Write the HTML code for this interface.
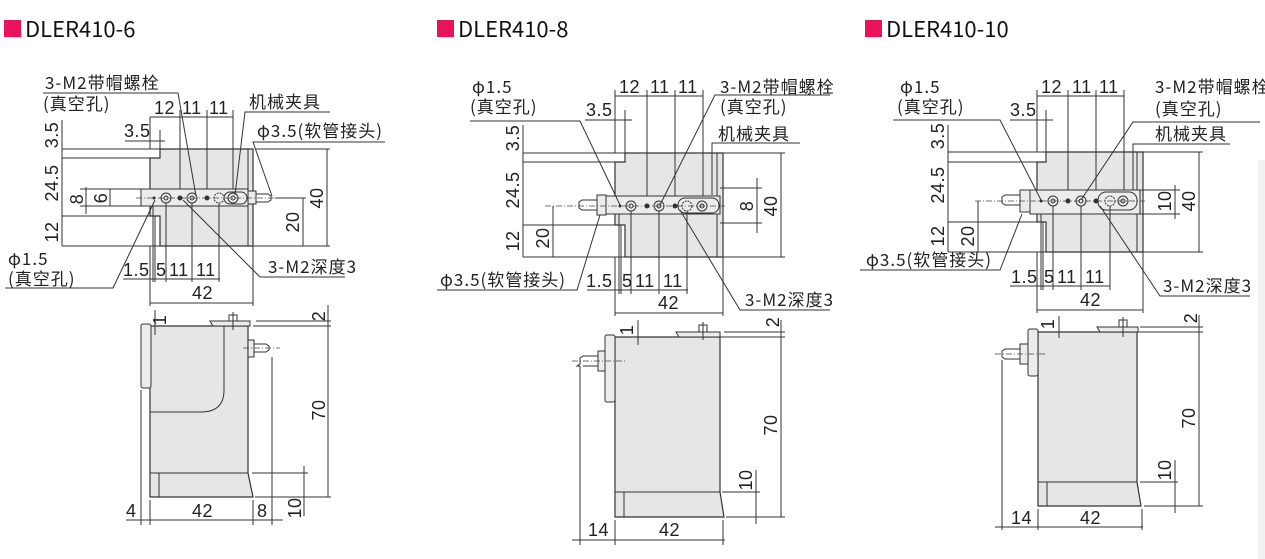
<!DOCTYPE html>
<html><head><meta charset="utf-8"><style>
html,body{margin:0;padding:0;background:#fff;width:1265px;height:559px;overflow:hidden}
svg{display:block}
text{font-family:"Liberation Sans","Noto Sans CJK SC",sans-serif;fill:#222}
.t{font-family:"Noto Sans CJK SC","Liberation Sans",sans-serif;font-size:17px;letter-spacing:1px}
.d{font-family:"Liberation Sans","Noto Sans CJK SC",sans-serif;font-size:18px;letter-spacing:0.5px}
.ttl{font-family:"Noto Sans CJK SC","Liberation Sans",sans-serif;font-size:22px;fill:#111}
.l{stroke:#333;stroke-width:1;fill:none}
.b{fill:#e6e6e6;stroke:#333;stroke-width:1.2}
.p{fill:#ececec;stroke:#333;stroke-width:1}
.c{stroke:#444;stroke-width:0.8;stroke-dasharray:6 2 1 2;fill:none}
</style></head><body>
<svg width="1265" height="559" viewBox="0 0 1265 559" xmlns="http://www.w3.org/2000/svg">
<rect x="1258" y="160" width="7" height="399" fill="#f2f2f2"/>
<!-- Titles -->
<rect x="4" y="20" width="17" height="17" fill="#e8135a"/><text class="ttl" x="25" y="37">DLER410-6</text>
<rect x="437" y="20" width="17" height="17" fill="#e8135a"/><text class="ttl" x="458" y="37">DLER410-8</text>
<rect x="865" y="20" width="17" height="17" fill="#e8135a"/><text class="ttl" x="886" y="37">DLER410-10</text>

<!-- ===== PANEL 1 TOP ===== -->
<path class="b" d="M160 149 H253 V246 H160 V216 H150 V158 H160 Z"/>
<line class="l" x1="248" y1="149" x2="248" y2="246"/>
<rect class="p" x="141" y="189" width="107" height="17"/>
<rect class="p" x="248" y="191" width="8" height="13"/>
<path class="l" d="M256 194 h12 l3 2 v4 l-3 2 h-12"/>
<line class="c" x1="136" y1="198" x2="285" y2="198"/>
<rect class="l" x="224" y="192" width="23" height="12" rx="6"/>
<g class="l"><circle cx="166" cy="198" r="5"/><circle cx="166" cy="198" r="2"/><circle cx="192" cy="198" r="5"/><circle cx="192" cy="198" r="2"/><circle cx="219" cy="198" r="5" stroke-dasharray="2 1"/><circle cx="233" cy="198" r="5"/><circle cx="233" cy="198" r="2"/></g>
<g fill="#333"><circle cx="154" cy="198" r="1.5"/><circle cx="180" cy="198" r="2.5"/><circle cx="207" cy="198" r="2.5"/></g>
<g class="l">
<line x1="62" y1="120" x2="62" y2="246"/>
<line x1="62" y1="149" x2="160" y2="149"/><line x1="62" y1="158" x2="150" y2="158"/>
<line x1="62" y1="216" x2="150" y2="216"/><line x1="62" y1="246" x2="160" y2="246"/>
<line x1="86" y1="187" x2="86" y2="214"/><line x1="80" y1="189" x2="141" y2="189"/><line x1="80" y1="206" x2="141" y2="206"/>
<line x1="110" y1="189" x2="110" y2="206"/>
<line x1="150" y1="117" x2="233" y2="117"/>
<line x1="150" y1="117" x2="150" y2="149"/><line x1="180" y1="110" x2="180" y2="189"/><line x1="207" y1="110" x2="207" y2="189"/><line x1="233" y1="110" x2="233" y2="189"/>
<line x1="125" y1="141" x2="165" y2="141"/><line x1="150" y1="130" x2="150" y2="149"/><line x1="160" y1="130" x2="160" y2="149"/>
<line x1="255" y1="149" x2="330" y2="149"/><line x1="253" y1="246" x2="330" y2="246"/>
<line x1="327" y1="149" x2="327" y2="246"/><line x1="275" y1="198" x2="306" y2="198"/><line x1="303" y1="198" x2="303" y2="246"/>
<line x1="123" y1="279" x2="220" y2="279"/>
<line x1="153" y1="206" x2="153" y2="282"/><line x1="155" y1="216" x2="155" y2="282"/><line x1="166" y1="203" x2="166" y2="282"/><line x1="192" y1="203" x2="192" y2="282"/><line x1="219" y1="203" x2="219" y2="282"/>
<line x1="150" y1="246" x2="150" y2="306"/><line x1="253" y1="246" x2="253" y2="306"/><line x1="150" y1="303" x2="253" y2="303"/>
<path d="M43 93 H178 L196 196"/>
<path d="M330 112 H245 L235 195"/>
<path d="M385 142 H253 L272 196"/>
<path d="M5 288 H113 L155 200"/>
<path d="M345 277 H260 L183 200"/>
</g>
<text class="d" transform="translate(58,135) rotate(-90)" text-anchor="middle">3.5</text>
<text class="d" transform="translate(58,183) rotate(-90)" text-anchor="middle">24.5</text>
<text class="d" transform="translate(58,232) rotate(-90)" text-anchor="middle">12</text>
<text class="d" transform="translate(83,199) rotate(-90)" text-anchor="middle">8</text>
<text class="d" transform="translate(107,198) rotate(-90)" text-anchor="middle">6</text>
<text class="d" transform="translate(323,198) rotate(-90)" text-anchor="middle">40</text>
<text class="d" transform="translate(299,222) rotate(-90)" text-anchor="middle">20</text>
<text class="d" x="154" y="114">12</text><text class="d" x="182" y="114">11</text><text class="d" x="209" y="114">11</text>
<text class="d" x="124" y="137">3.5</text>
<text class="d" x="123" y="276">1.5</text><text class="d" x="156" y="276">5</text><text class="d" x="169" y="276">11</text><text class="d" x="196" y="276">11</text>
<text class="d" x="192" y="299">42</text>
<text class="t" x="45" y="89">3-M2带帽螺栓</text>
<text class="t" x="43" y="110">(真空孔)</text>
<text class="t" x="249" y="108">机械夹具</text>
<text class="t" x="257" y="137">φ3.5(软管接头)</text>
<text class="t" x="8" y="265">φ1.5</text>
<text class="t" x="8" y="285">(真空孔)</text>
<text class="t" x="268" y="273">3-M2深度3</text>

<!-- ===== PANEL 1 SIDE ===== -->
<path class="b" d="M150 326 H248 V473 L253 497 H150 Z"/>
<line class="l" x1="150" y1="473" x2="248" y2="473"/><line class="l" x1="159" y1="473" x2="159" y2="497"/>
<path class="l" d="M224 326 V390 Q224 412 201 412 H150"/>
<rect class="p" x="141" y="324" width="10" height="64" rx="2"/>
<path class="p" d="M210 321 H250 V326 H213 Z"/>
<rect class="l" x="229" y="315" width="8" height="6"/>
<line class="l" x1="233" y1="312" x2="233" y2="330"/>
<rect class="p" x="248" y="340" width="6" height="17"/>
<path class="l" d="M254 344 h12 l3 2 v4 l-3 2 h-12"/>
<line class="c" x1="243" y1="348" x2="280" y2="348"/>
<g class="l">
<line x1="256" y1="321" x2="331" y2="321"/><line x1="253" y1="326" x2="331" y2="326"/>
<line x1="328" y1="305" x2="328" y2="497"/><line x1="255" y1="497" x2="331" y2="497"/>
<line x1="252" y1="473" x2="308" y2="473"/><line x1="304" y1="466" x2="304" y2="516"/>
<line x1="141" y1="390" x2="141" y2="525"/><line x1="150" y1="500" x2="150" y2="525"/><line x1="253" y1="500" x2="253" y2="525"/><line x1="272" y1="357" x2="272" y2="525"/>
<line x1="126" y1="520" x2="283" y2="520"/>
<line x1="155" y1="310" x2="155" y2="335"/>
</g>
<text class="d" transform="translate(166,320) rotate(-90)" text-anchor="middle">1</text>
<text class="d" transform="translate(325,316) rotate(-90)" text-anchor="middle">2</text>
<text class="d" transform="translate(325,410) rotate(-90)" text-anchor="middle">70</text>
<text class="d" transform="translate(301,508) rotate(-90)" text-anchor="middle">10</text>
<text class="d" x="126" y="517">4</text><text class="d" x="192" y="517">42</text><text class="d" x="257" y="517">8</text>

<!-- ===== PANEL 2 TOP ===== -->
<path class="b" d="M625 153 H723 V257 H625 V225 H615 V162 H625 Z"/>
<line class="l" x1="717" y1="153" x2="717" y2="257"/>
<rect class="p" x="606" y="196" width="114" height="18"/>
<rect class="p" x="597" y="195" width="9" height="20"/>
<path class="l" d="M597 200 h-15 l-3 2 v6 l3 2 h15"/>
<line class="c" x1="545" y1="206" x2="725" y2="206"/>
<rect class="l" x="678" y="198" width="41" height="15" rx="7"/>
<g class="l"><circle cx="631" cy="206" r="5"/><circle cx="631" cy="206" r="2"/><circle cx="659" cy="206" r="5"/><circle cx="659" cy="206" r="2"/><circle cx="687" cy="206" r="5" stroke-dasharray="2 1"/><circle cx="702" cy="206" r="5"/><circle cx="702" cy="206" r="2"/></g>
<g fill="#333"><circle cx="620" cy="206" r="1.5"/><circle cx="647" cy="206" r="2.5"/><circle cx="675" cy="206" r="2.5"/></g>
<g class="l">
<line x1="523" y1="125" x2="523" y2="257"/>
<line x1="523" y1="153" x2="625" y2="153"/><line x1="523" y1="162" x2="615" y2="162"/>
<line x1="523" y1="225" x2="615" y2="225"/><line x1="523" y1="257" x2="625" y2="257"/>
<line x1="553" y1="206" x2="553" y2="257"/>
<line x1="615" y1="96" x2="703" y2="96"/>
<line x1="615" y1="90" x2="615" y2="153"/><line x1="647" y1="90" x2="647" y2="196"/><line x1="675" y1="90" x2="675" y2="196"/><line x1="703" y1="90" x2="703" y2="196"/>
<line x1="585" y1="120" x2="632" y2="120"/><line x1="615" y1="110" x2="615" y2="153"/><line x1="625" y1="110" x2="625" y2="153"/>
<line x1="723" y1="153" x2="785" y2="153"/><line x1="723" y1="257" x2="785" y2="257"/>
<line x1="781" y1="153" x2="781" y2="257"/>
<line x1="720" y1="188" x2="762" y2="188"/><line x1="720" y1="223" x2="762" y2="223"/><line x1="757" y1="178" x2="757" y2="233"/>
<line x1="587" y1="290" x2="688" y2="290"/>
<line x1="619" y1="214" x2="619" y2="294"/><line x1="621" y1="225" x2="621" y2="294"/><line x1="631" y1="211" x2="631" y2="294"/><line x1="659" y1="211" x2="659" y2="294"/><line x1="687" y1="211" x2="687" y2="294"/>
<line x1="615" y1="257" x2="615" y2="316"/><line x1="723" y1="257" x2="723" y2="316"/><line x1="615" y1="313" x2="723" y2="313"/>
<path d="M470 121 H580 L620 205"/>
<path d="M830 95 H715 L660 205"/>
<path d="M800 143 H712 V195"/>
<path d="M437 290 H577 L600 215"/>
<path d="M830 310 H740 L680 210"/>
</g>
<text class="d" transform="translate(519,138) rotate(-90)" text-anchor="middle">3.5</text>
<text class="d" transform="translate(519,190) rotate(-90)" text-anchor="middle">24.5</text>
<text class="d" transform="translate(519,241) rotate(-90)" text-anchor="middle">12</text>
<text class="d" transform="translate(549,238) rotate(-90)" text-anchor="middle">20</text>
<text class="d" transform="translate(753,206) rotate(-90)" text-anchor="middle">8</text>
<text class="d" transform="translate(777,206) rotate(-90)" text-anchor="middle">40</text>
<text class="d" x="619" y="93">12</text><text class="d" x="650" y="93">11</text><text class="d" x="678" y="93">11</text>
<text class="d" x="586" y="116">3.5</text>
<text class="d" x="586" y="287">1.5</text><text class="d" x="622" y="287">5</text><text class="d" x="635" y="287">11</text><text class="d" x="663" y="287">11</text>
<text class="d" x="658" y="309">42</text>
<text class="t" x="472" y="93">φ1.5</text>
<text class="t" x="470" y="113">(真空孔)</text>
<text class="t" x="720" y="93">3-M2带帽螺栓</text>
<text class="t" x="720" y="113">(真空孔)</text>
<text class="t" x="718" y="140">机械夹具</text>
<text class="t" x="440" y="286">φ3.5(软管接头)</text>
<text class="t" x="745" y="306">3-M2深度3</text>

<!-- ===== PANEL 2 SIDE ===== -->
<path class="b" d="M615 337 H720 V492 L724 517 H615 Z"/>
<line class="l" x1="615" y1="492" x2="720" y2="492"/><line class="l" x1="624" y1="492" x2="624" y2="517"/>
<rect class="p" x="605" y="335" width="10" height="67" rx="2"/>
<path class="p" d="M676 332 H720 V337 H679 Z"/>
<rect class="l" x="699" y="325" width="8" height="7"/>
<line class="l" x1="703" y1="322" x2="703" y2="340"/>
<rect class="p" x="598" y="351" width="7" height="20"/>
<path class="l" d="M598 356 h-15 l-3 2 v6 l-3 2 h3 M598 366 h-15"/>
<line class="c" x1="572" y1="361" x2="625" y2="361"/>
<g class="l">
<line x1="724" y1="332" x2="785" y2="332"/><line x1="720" y1="337" x2="785" y2="337"/>
<line x1="781" y1="320" x2="781" y2="517"/><line x1="726" y1="517" x2="785" y2="517"/>
<line x1="722" y1="492" x2="760" y2="492"/><line x1="756" y1="470" x2="756" y2="524"/>
<line x1="580" y1="366" x2="580" y2="545"/><line x1="615" y1="520" x2="615" y2="545"/><line x1="723" y1="520" x2="723" y2="545"/>
<line x1="572" y1="540" x2="725" y2="540"/>
<line x1="638" y1="320" x2="638" y2="345"/>
</g>
<text class="d" transform="translate(633,330) rotate(-90)" text-anchor="middle">1</text>
<text class="d" transform="translate(779,322) rotate(-90)" text-anchor="middle">2</text>
<text class="d" transform="translate(777,425) rotate(-90)" text-anchor="middle">70</text>
<text class="d" transform="translate(752,480) rotate(-90)" text-anchor="middle">10</text>
<text class="d" x="588" y="536">14</text><text class="d" x="659" y="536">42</text>

<!-- ===== PANEL 3 TOP ===== -->
<path class="b" d="M1046 152 H1143 V252 H1046 V222 H1037 V162 H1046 Z"/>
<line class="l" x1="1137" y1="152" x2="1137" y2="252"/>
<rect class="p" x="1030" y="190" width="110" height="24"/>
<rect class="p" x="1020" y="190" width="10" height="22"/>
<path class="l" d="M1020 195 h-15 l-3 2 v6 l3 2 h15"/>
<line class="c" x1="975" y1="201" x2="1145" y2="201"/>
<rect class="l" x="1098" y="192" width="39" height="18" rx="8"/>
<g class="l"><circle cx="1053" cy="201" r="5"/><circle cx="1053" cy="201" r="2"/><circle cx="1081" cy="201" r="5"/><circle cx="1081" cy="201" r="2"/><circle cx="1110" cy="201" r="5" stroke-dasharray="2 1"/><circle cx="1123" cy="201" r="5"/><circle cx="1123" cy="201" r="2"/></g>
<g fill="#333"><circle cx="1041" cy="201" r="1.5"/><circle cx="1068" cy="201" r="2.5"/><circle cx="1096" cy="201" r="2.5"/></g>
<g class="l">
<line x1="948" y1="125" x2="948" y2="252"/>
<line x1="948" y1="152" x2="1046" y2="152"/><line x1="948" y1="162" x2="1037" y2="162"/>
<line x1="948" y1="222" x2="1037" y2="222"/><line x1="948" y1="252" x2="1046" y2="252"/>
<line x1="978" y1="201" x2="978" y2="252"/>
<line x1="1037" y1="96" x2="1124" y2="96"/>
<line x1="1037" y1="90" x2="1037" y2="152"/><line x1="1068" y1="90" x2="1068" y2="190"/><line x1="1096" y1="90" x2="1096" y2="190"/><line x1="1124" y1="90" x2="1124" y2="190"/>
<line x1="1010" y1="120" x2="1053" y2="120"/><line x1="1037" y1="110" x2="1037" y2="152"/><line x1="1046" y1="110" x2="1046" y2="152"/>
<line x1="1143" y1="152" x2="1203" y2="152"/><line x1="1143" y1="252" x2="1203" y2="252"/>
<line x1="1199" y1="152" x2="1199" y2="252"/>
<line x1="1140" y1="190" x2="1180" y2="190"/><line x1="1140" y1="214" x2="1180" y2="214"/><line x1="1175" y1="185" x2="1175" y2="219"/>
<line x1="1010" y1="286" x2="1110" y2="286"/>
<line x1="1041" y1="214" x2="1041" y2="290"/><line x1="1043" y1="222" x2="1043" y2="290"/><line x1="1053" y1="206" x2="1053" y2="290"/><line x1="1081" y1="206" x2="1081" y2="290"/><line x1="1110" y1="206" x2="1110" y2="290"/>
<line x1="1037" y1="252" x2="1037" y2="313"/><line x1="1143" y1="252" x2="1143" y2="313"/><line x1="1037" y1="310" x2="1143" y2="310"/>
<path d="M893 120 H1000 L1041 200"/>
<path d="M1260 122 H1133 L1081 200"/>
<path d="M1230 144 H1133 V190"/>
<path d="M860 270 H1000 L1022 214"/>
<path d="M1250 296 H1160 L1100 206"/>
</g>
<text class="d" transform="translate(944,136) rotate(-90)" text-anchor="middle">3.5</text>
<text class="d" transform="translate(944,185) rotate(-90)" text-anchor="middle">24.5</text>
<text class="d" transform="translate(944,236) rotate(-90)" text-anchor="middle">12</text>
<text class="d" transform="translate(974,236) rotate(-90)" text-anchor="middle">20</text>
<text class="d" transform="translate(1171,201) rotate(-90)" text-anchor="middle">10</text>
<text class="d" transform="translate(1195,201) rotate(-90)" text-anchor="middle">40</text>
<text class="d" x="1041" y="93">12</text><text class="d" x="1072" y="93">11</text><text class="d" x="1099" y="93">11</text>
<text class="d" x="1010" y="116">3.5</text>
<text class="d" x="1011" y="283">1.5</text><text class="d" x="1044" y="283">5</text><text class="d" x="1057" y="283">11</text><text class="d" x="1085" y="283">11</text>
<text class="d" x="1080" y="306">42</text>
<text class="t" x="900" y="93">φ1.5</text>
<text class="t" x="897" y="113">(真空孔)</text>
<text class="t" x="1155" y="93">3-M2带帽螺栓</text>
<text class="t" x="1155" y="115">(真空孔)</text>
<text class="t" x="1155" y="140">机械夹具</text>
<text class="t" x="866" y="266">φ3.5(软管接头)</text>
<text class="t" x="1163" y="292">3-M2深度3</text>

<!-- ===== PANEL 3 SIDE ===== -->
<path class="b" d="M1038 332 H1137 V482 L1141 506 H1038 Z"/>
<line class="l" x1="1038" y1="482" x2="1137" y2="482"/><line class="l" x1="1047" y1="482" x2="1047" y2="506"/>
<rect class="p" x="1028" y="329" width="10" height="47" rx="2"/>
<path class="p" d="M1097 327 H1138 V332 H1100 Z"/>
<rect class="l" x="1119" y="320" width="8" height="7"/>
<line class="l" x1="1123" y1="317" x2="1123" y2="337"/>
<rect class="p" x="1020" y="344" width="8" height="20"/>
<path class="l" d="M1020 349 h-15 l-3 2 v6 l3 2 h15"/>
<line class="c" x1="995" y1="354" x2="1045" y2="354"/>
<g class="l">
<line x1="1140" y1="327" x2="1203" y2="327"/><line x1="1138" y1="332" x2="1203" y2="332"/>
<line x1="1199" y1="315" x2="1199" y2="506"/><line x1="1144" y1="506" x2="1203" y2="506"/>
<line x1="1140" y1="482" x2="1178" y2="482"/><line x1="1175" y1="460" x2="1175" y2="513"/>
<line x1="1002" y1="360" x2="1002" y2="530"/><line x1="1038" y1="509" x2="1038" y2="530"/><line x1="1142" y1="509" x2="1142" y2="530"/>
<line x1="995" y1="527" x2="1143" y2="527"/>
<line x1="1059" y1="316" x2="1059" y2="338"/>
</g>
<text class="d" transform="translate(1054,324) rotate(-90)" text-anchor="middle">1</text>
<text class="d" transform="translate(1197,318) rotate(-90)" text-anchor="middle">2</text>
<text class="d" transform="translate(1195,418) rotate(-90)" text-anchor="middle">70</text>
<text class="d" transform="translate(1171,470) rotate(-90)" text-anchor="middle">10</text>
<text class="d" x="1011" y="524">14</text><text class="d" x="1080" y="524">42</text>
</svg>
</body></html>
